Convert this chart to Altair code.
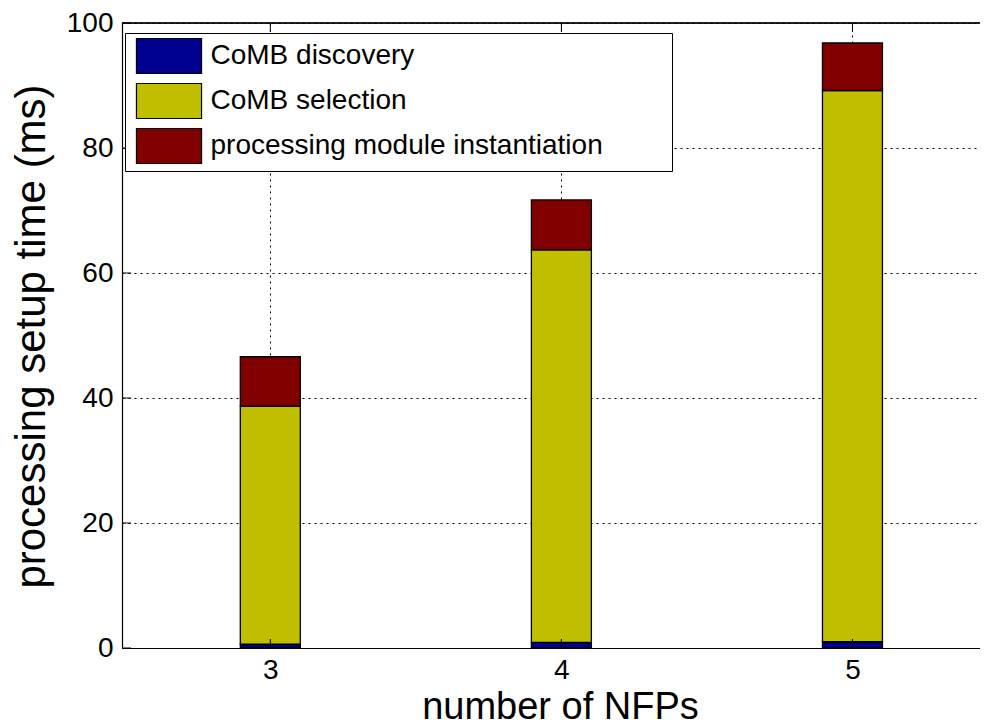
import altair as alt
import pandas as pd

# ---- data ----
nfps = [3, 4, 5]
series = ["CoMB discovery", "CoMB selection", "processing module instantiation"]
discovery = [0.6, 0.9, 1.0]
selection = [38.1, 62.8, 88.2]
instantiation = [7.9, 8.0, 7.6]
colors = ["#00008F", "#BFBF00", "#800000"]
y_ticks = [0, 20, 40, 60, 80, 100]

rows = []
for i, n in enumerate(nfps):
    for k, (s, vals) in enumerate(zip(series, [discovery, selection, instantiation])):
        rows.append({"nfp": n, "series": s, "value": vals[i], "order": k})
df = pd.DataFrame(rows)
ydf = pd.DataFrame({"value": y_ticks})
xdf = pd.DataFrame({"nfp": nfps})

W, H = 858, 625
FONT = "Liberation Sans"
xscale = alt.Scale(domain=[2.5076, 5.421], nice=False, zero=False)
yscale = alt.Scale(domain=[0, 100], nice=False)

common = dict(grid=True, ticks=False, tickSize=0, labelFontSize=28, labelFont=FONT,
              labelColor="black", titleFont=FONT, titleFontWeight="normal",
              titleColor="black", titleBaseline="alphabetic", titleAlign="center",
              domainColor="black", domainWidth=1.2, gridColor="black",
              gridDash=[2, 4], gridWidth=1, gridOpacity=1)

xaxis = alt.Axis(values=nfps, format="d", title="number of NFPs", labelPadding=8,
                 titleFontSize=38, titleX=438, titleY=70, **common)
yaxis = alt.Axis(values=y_ticks, title="processing setup time (ms)", labelPadding=9,
                 titleFontSize=42, titleX=-78, titleY=313, titleAngle=270, **common)

bars = alt.Chart(df).mark_bar(size=60, stroke="black", strokeWidth=1.3).encode(
    x=alt.X("nfp:Q", scale=xscale, axis=xaxis),
    y=alt.Y("value:Q", stack="zero", scale=yscale, axis=yaxis),
    color=alt.Color(
        "series:N",
        scale=alt.Scale(domain=series, range=colors),
        legend=alt.Legend(
            title=".", titleOrient="right", titleFontSize=10, titleColor="white",
            titlePadding=62,
            orient="none", legendX=3, legendY=10,
            symbolType="M-1.86,-1H1.86V1H-1.86Z", symbolSize=1225,
            symbolStrokeColor="black", symbolStrokeWidth=1.2, symbolOpacity=1,
            symbolOffset=21, labelOffset=23, labelFontSize=28, labelFont=FONT,
            labelColor="black", rowPadding=4, padding=4.5, strokeColor="black",
            fillColor="white", labelLimit=0,
        ),
    ),
    order=alt.Order("order:Q", sort="ascending"),
)

yt = alt.Chart(ydf).mark_rule(color="black", strokeWidth=1).encode(
    y=alt.Y("value:Q", scale=yscale, axis=yaxis), x=alt.value(0), x2=alt.value(9)
)
xt_bottom = alt.Chart(xdf).mark_rule(color="black", strokeWidth=1).encode(
    x=alt.X("nfp:Q", scale=xscale, axis=xaxis), y=alt.value(H), y2=alt.value(H - 9)
)
xt_top = alt.Chart(xdf).mark_rule(color="black", strokeWidth=1).encode(
    x=alt.X("nfp:Q", scale=xscale, axis=xaxis), y=alt.value(0), y2=alt.value(9)
)
top_frame = alt.Chart(xdf).mark_rule(color="black", strokeWidth=1.2).encode(
    x=alt.value(0), x2=alt.value(W), y=alt.value(0)
)

chart = alt.layer(bars, yt, xt_bottom, xt_top, top_frame).properties(
    width=W, height=H,
    autosize=alt.AutoSizeParams(type="none"),
    padding={"left": 114, "top": 15, "right": 0, "bottom": 78},
).configure_view(stroke=None)

chart.save("out.html", embed_options={"renderer": "svg", "actions": False})
